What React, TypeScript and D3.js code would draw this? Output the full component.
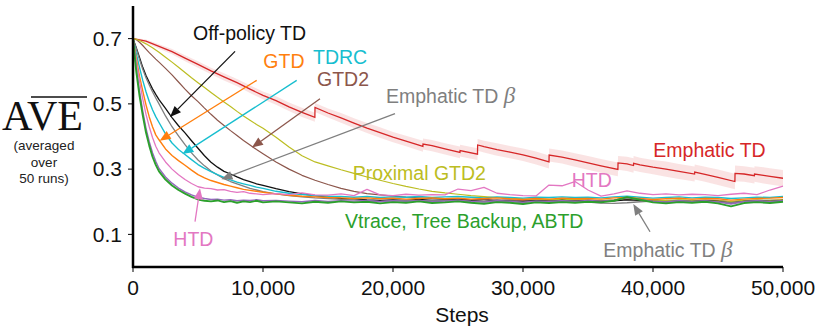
import React from "react";
import * as d3 from "d3";

// step grid shared by most runs (denser at the start where curves drop fast)
const steps = [
  0, 250, 500, 750, 1000, 1250, 1500, 1750, 2000, 2500, 3000, 3500, 4000, 4500, 5000,
  5500, 6000, 6500, 7000, 7500, 8000, 8500, 9000, 9500, 10000,
  11000, 12000, 13000, 14000, 15000, 16000, 17000, 18000, 19000, 20000,
  21000, 22000, 23000, 24000, 25000, 26000, 27000, 28000, 29000, 30000,
  31000, 32000, 33000, 34000, 35000, 36000, 37000, 38000, 39000, 40000,
  41000, 42000, 43000, 44000, 45000, 46000, 47000, 48000, 49000, 50000,
];

const vtrace = [
  0.7, 0.6, 0.525, 0.465, 0.412, 0.372, 0.338, 0.313, 0.293, 0.268, 0.25, 0.236, 0.225, 0.215, 0.207,
  0.203, 0.201, 0.204, 0.199, 0.202, 0.197, 0.201, 0.199, 0.203, 0.198,
  0.201, 0.198, 0.195, 0.2, 0.197, 0.201, 0.198, 0.2, 0.195, 0.199,
  0.197, 0.201, 0.196, 0.198, 0.201, 0.197, 0.194, 0.199, 0.197, 0.193,
  0.198, 0.196, 0.199, 0.197, 0.2, 0.198, 0.203, 0.214, 0.206, 0.198,
  0.195, 0.199, 0.197, 0.2, 0.195, 0.186, 0.196, 0.199, 0.196, 0.2,
];
const abtd = [
  0.7, 0.61, 0.538, 0.478, 0.425, 0.384, 0.35, 0.324, 0.302, 0.276, 0.257, 0.242, 0.23, 0.221, 0.214,
  0.21, 0.207, 0.208, 0.205, 0.206, 0.203, 0.205, 0.204, 0.206, 0.203,
  0.204, 0.202, 0.2, 0.204, 0.201, 0.203, 0.202, 0.204, 0.2, 0.203,
  0.201, 0.204, 0.2, 0.202, 0.204, 0.201, 0.199, 0.203, 0.201, 0.198,
  0.202, 0.2, 0.203, 0.201, 0.204, 0.202, 0.205, 0.212, 0.207, 0.201,
  0.199, 0.203, 0.2, 0.203, 0.199, 0.193, 0.2, 0.203, 0.2, 0.203,
];
const htd = [
  0.7, 0.63, 0.57, 0.515, 0.468, 0.43, 0.397, 0.37, 0.35, 0.322, 0.3, 0.283, 0.268, 0.256, 0.246,
  0.242, 0.24, 0.236, 0.237, 0.232, 0.229, 0.231, 0.226, 0.224, 0.222,
  0.225, 0.222, 0.227, 0.221, 0.22, 0.224, 0.219, 0.238, 0.221, 0.219,
  0.223, 0.22, 0.222, 0.221, 0.239, 0.234, 0.244, 0.226, 0.222, 0.219,
  0.218, 0.251, 0.249, 0.262, 0.236, 0.217, 0.224, 0.233, 0.226, 0.222,
  0.224, 0.221, 0.223, 0.222, 0.219, 0.223, 0.226, 0.222, 0.236, 0.248,
];
const gtd = [
  0.7, 0.64, 0.585, 0.54, 0.497, 0.46, 0.43, 0.405, 0.39, 0.362, 0.342, 0.326, 0.312, 0.297, 0.283,
  0.273, 0.265, 0.259, 0.253, 0.248, 0.243, 0.238, 0.235, 0.232, 0.229,
  0.224, 0.22, 0.217, 0.215, 0.213, 0.212, 0.21, 0.212, 0.209, 0.211,
  0.208, 0.21, 0.212, 0.209, 0.211, 0.208, 0.21, 0.212, 0.209, 0.207,
  0.21, 0.208, 0.211, 0.209, 0.21, 0.208, 0.212, 0.213, 0.21, 0.207,
  0.209, 0.211, 0.208, 0.21, 0.209, 0.205, 0.208, 0.21, 0.211, 0.213,
];
const tdrc = [
  0.7, 0.655, 0.612, 0.572, 0.537, 0.507, 0.482, 0.461, 0.443, 0.408, 0.38, 0.36, 0.345, 0.329, 0.314,
  0.302, 0.292, 0.283, 0.275, 0.267, 0.26, 0.255, 0.25, 0.245, 0.241,
  0.232, 0.226, 0.222, 0.219, 0.217, 0.216, 0.214, 0.216, 0.213, 0.215,
  0.214, 0.216, 0.213, 0.215, 0.216, 0.214, 0.212, 0.215, 0.213, 0.211,
  0.214, 0.213, 0.215, 0.213, 0.214, 0.212, 0.215, 0.217, 0.214, 0.211,
  0.213, 0.215, 0.212, 0.214, 0.213, 0.21, 0.212, 0.214, 0.213, 0.216,
];
const emphaticBeta = [
  0.7, 0.67, 0.636, 0.606, 0.58, 0.558, 0.537, 0.518, 0.5, 0.463, 0.43, 0.402, 0.375, 0.35, 0.328,
  0.31, 0.294, 0.282, 0.271, 0.262, 0.255, 0.248, 0.241, 0.236, 0.231,
  0.224, 0.219, 0.215, 0.212, 0.21, 0.207, 0.206, 0.203, 0.201, 0.203,
  0.204, 0.202, 0.205, 0.203, 0.204, 0.202, 0.2, 0.203, 0.201, 0.199,
  0.202, 0.2, 0.203, 0.201, 0.199, 0.196, 0.195, 0.197, 0.2, 0.202,
  0.2, 0.203, 0.201, 0.202, 0.2, 0.197, 0.201, 0.203, 0.201, 0.203,
];
const offPolicyTD = [
  0.7, 0.672, 0.642, 0.612, 0.587, 0.566, 0.546, 0.529, 0.513, 0.486, 0.458, 0.433, 0.411, 0.387, 0.364,
  0.341, 0.321, 0.306, 0.293, 0.285, 0.276, 0.268, 0.262, 0.255, 0.25,
  0.24, 0.231, 0.224, 0.219, 0.214, 0.21, 0.209, 0.206, 0.204, 0.206,
  0.204, 0.207, 0.204, 0.206, 0.205, 0.203, 0.201, 0.204, 0.202, 0.2,
  0.203, 0.201, 0.204, 0.202, 0.203, 0.201, 0.203, 0.206, 0.204, 0.201,
  0.199, 0.202, 0.2, 0.203, 0.201, 0.196, 0.201, 0.203, 0.201, 0.204,
];
const proximalGTD2 = [
  0.7, 0.698, 0.694, 0.689, 0.684, 0.678, 0.672, 0.665, 0.658, 0.643, 0.628, 0.612, 0.596, 0.58, 0.565,
  0.55, 0.535, 0.52, 0.506, 0.492, 0.477, 0.463, 0.45, 0.437, 0.425,
  0.398, 0.368, 0.341, 0.322, 0.31, 0.298, 0.287, 0.276, 0.266, 0.256,
  0.247, 0.239, 0.232, 0.227, 0.223, 0.219, 0.216, 0.213, 0.211, 0.209,
  0.208, 0.207, 0.206, 0.207, 0.205, 0.204, 0.206, 0.21, 0.206, 0.203,
  0.204, 0.206, 0.205, 0.204, 0.203, 0.201, 0.204, 0.205, 0.204, 0.206,
];
const gtd2 = [
  0.7, 0.697, 0.689, 0.679, 0.668, 0.657, 0.647, 0.637, 0.628, 0.609, 0.589, 0.567, 0.545, 0.525, 0.507,
  0.487, 0.468, 0.45, 0.434, 0.418, 0.403, 0.388, 0.374, 0.36, 0.347,
  0.322, 0.3, 0.281, 0.266, 0.253, 0.241, 0.232, 0.225, 0.221, 0.217,
  0.214, 0.212, 0.21, 0.209, 0.208, 0.206, 0.207, 0.205, 0.206, 0.204,
  0.206, 0.205, 0.207, 0.205, 0.206, 0.203, 0.205, 0.208, 0.206, 0.204,
  0.202, 0.205, 0.203, 0.205, 0.204, 0.2, 0.203, 0.205, 0.204, 0.206,
];

// Emphatic TD has its own grid so the sawtooth jumps stay vertical
const emphaticSteps = [
  0, 1000, 2000, 3000, 4000, 5000, 6000, 7000, 8000, 9000, 10000, 11000, 12000, 13000,
  13990, 14000, 15000, 16000, 17000, 18000, 19000, 20000, 21000, 22300, 22310, 23000, 24000,
  25150, 25160, 26500, 26510, 27000, 28000, 29000, 30000, 31000, 32000, 32010, 33000, 34000,
  35000, 36000, 37300, 37310, 38000, 38500, 38510, 39000, 40000, 41000, 42000, 43200, 43210,
  44000, 45000, 46300, 46310, 47000, 47800, 47810, 48500, 49000, 50000,
];
const emphaticTD = [
  0.7, 0.692, 0.676, 0.66, 0.64, 0.621, 0.601, 0.583, 0.565, 0.545, 0.526, 0.51, 0.491, 0.474,
  0.459, 0.489, 0.472, 0.457, 0.441, 0.426, 0.412, 0.398, 0.386, 0.37, 0.377, 0.372, 0.362,
  0.351, 0.357, 0.346, 0.374, 0.369, 0.36, 0.352, 0.344, 0.334, 0.322, 0.343, 0.337, 0.328,
  0.319, 0.31, 0.299, 0.319, 0.316, 0.311, 0.318, 0.313, 0.306, 0.3, 0.293, 0.285, 0.291,
  0.284, 0.275, 0.262, 0.287, 0.285, 0.28, 0.285, 0.281, 0.278, 0.272,
];
const emphaticErr = [
  0.003, 0.005, 0.007, 0.008, 0.009, 0.01, 0.01, 0.011, 0.011, 0.012, 0.012, 0.013, 0.013, 0.014,
  0.014, 0.014, 0.014, 0.015, 0.015, 0.015, 0.016, 0.016, 0.016, 0.017, 0.017, 0.017, 0.017,
  0.018, 0.018, 0.018, 0.018, 0.018, 0.019, 0.019, 0.019, 0.02, 0.02, 0.02, 0.02, 0.021,
  0.021, 0.021, 0.021, 0.021, 0.022, 0.022, 0.022, 0.022, 0.022, 0.023, 0.023, 0.023, 0.023,
  0.023, 0.024, 0.024, 0.024, 0.024, 0.024, 0.024, 0.025, 0.025, 0.025,
];

const xTicks = [0, 10000, 20000, 30000, 40000, 50000];
const yTicks = [0.1, 0.3, 0.5, 0.7];

// drawing order: back to front
const series = [
  { values: gtd2, color: "#8c564b", width: 1.2 },
  { values: proximalGTD2, color: "#bcbd22", width: 1.2 },
  { values: offPolicyTD, color: "#111111", width: 1.3 },
  { values: emphaticBeta, color: "#7f7f7f", width: 1.3 },
  { values: tdrc, color: "#17becf", width: 1.4 },
  { values: gtd, color: "#ff7f0e", width: 1.4 },
  { values: htd, color: "#e377c2", width: 1.3 },
  { values: abtd, color: "#9467bd", width: 1.4 },
  { values: vtrace, color: "#2ca02c", width: 1.9 },
];

// annotation labels [step, value at baseline]
const labels = [
  { text: "Off-policy TD", color: "#111111", at: [4615, 0.696], beta: false },
  { text: "GTD", color: "#ff7f0e", at: [10023, 0.609], beta: false },
  { text: "TDRC", color: "#17becf", at: [13846, 0.621], beta: false },
  { text: "GTD2", color: "#8c564b", at: [14154, 0.554], beta: false },
  { text: "Emphatic TD ", color: "#7f7f7f", at: [19462, 0.502], beta: true },
  { text: "Emphatic TD", color: "#d62728", at: [40023, 0.336], beta: false },
  { text: "Proximal GTD2", color: "#bcbd22", at: [16900, 0.268], beta: false },
  { text: "HTD", color: "#e377c2", at: [33746, 0.246], beta: false },
  { text: "Vtrace, Tree Backup, ABTD", color: "#2ca02c", at: [16308, 0.121], beta: false },
  { text: "Emphatic TD ", color: "#7f7f7f", at: [36177, 0.03], beta: true },
  { text: "HTD", color: "#e377c2", at: [3100, 0.064], beta: false },
];

const arrows = [
  { color: "#111111", from: [7850, 0.661], to: [2850, 0.46] },
  { color: "#ff7f0e", from: [9515, 0.572], to: [2050, 0.387] },
  { color: "#17becf", from: [12592, 0.572], to: [3800, 0.346] },
  { color: "#8c564b", from: [14385, 0.516], to: [9150, 0.366] },
  { color: "#7f7f7f", from: [20154, 0.47], to: [6800, 0.269] },
  { color: "#e377c2", from: [4770, 0.139], to: [5154, 0.241] },
  { color: "#7f7f7f", from: [39770, 0.108], to: [38485, 0.193] },
];

const W = 830;
const H = 335;
const sans = "'Liberation Sans', Arial, Helvetica, sans-serif";
const serif = "'Liberation Serif', 'Times New Roman', serif";

export default function App() {
  const x = d3.scaleLinear().domain([0, 50000]).range([133, 783]);
  const y = d3.scaleLinear().domain([0, 0.8]).range([267, 6]);

  const line = d3
    .line<number>()
    .x((_, i) => x(steps[i]))
    .y((d) => y(d));

  const redLine = d3
    .line<number>()
    .x((_, i) => x(emphaticSteps[i]))
    .y((d) => y(d));

  const redBand = d3
    .area<number>()
    .x((_, i) => x(emphaticSteps[i]))
    .y0((d, i) => y(d - emphaticErr[i]))
    .y1((d, i) => y(d + emphaticErr[i]));

  const arrowHead = (a: { from: number[]; to: number[] }) => {
    const x1 = x(a.from[0]);
    const y1 = y(a.from[1]);
    const x2 = x(a.to[0]);
    const y2 = y(a.to[1]);
    const ang = Math.atan2(y2 - y1, x2 - x1);
    const len = 11;
    const half = 4.5;
    const bx = x2 - len * Math.cos(ang);
    const by = y2 - len * Math.sin(ang);
    const px = -Math.sin(ang) * half;
    const py = Math.cos(ang) * half;
    return {
      line: [x1, y1, bx, by],
      tri: `${x2},${y2} ${bx + px},${by + py} ${bx - px},${by - py}`,
    };
  };

  return (
    <svg
      width={W}
      height={H}
      style={{ position: "absolute", left: 0, top: 0, background: "#fff" }}
      fontFamily={sans}
    >
      {/* y label */}
      <text x={2} y={130} fontFamily={serif} fontSize={42} fill="#111">
        AVE
      </text>
      <line x1={31} x2={87} y1={97} y2={97} stroke="#111" strokeWidth={1.6} />
      <g fontSize={13.5} fill="#222" textAnchor="middle">
        <text x={44} y={150}>(averaged</text>
        <text x={44} y={167}>over</text>
        <text x={44} y={183}>50 runs)</text>
      </g>

      {/* curves */}
      <path d={redBand(emphaticTD) || ""} fill="#d62728" fillOpacity={0.13} />
      <path d={redLine(emphaticTD) || ""} fill="none" stroke="#d62728" strokeWidth={1.3} />
      {series.map((s, i) => (
        <path
          key={i}
          d={line(s.values) || ""}
          fill="none"
          stroke={s.color}
          strokeWidth={s.width}
          strokeLinejoin="round"
        />
      ))}

      {/* annotation arrows */}
      {arrows.map((a, i) => {
        const h = arrowHead(a);
        return (
          <g key={i}>
            <line
              x1={h.line[0]}
              y1={h.line[1]}
              x2={h.line[2]}
              y2={h.line[3]}
              stroke={a.color}
              strokeWidth={1.3}
            />
            <polygon points={h.tri} fill={a.color} />
          </g>
        );
      })}

      {/* annotation labels */}
      {labels.map((l, i) => (
        <text key={i} x={x(l.at[0])} y={y(l.at[1])} fill={l.color} fontSize={19.5}>
          {l.text}
          {l.beta && (
            <tspan fontFamily={serif} fontStyle="italic" fontSize={23}>
              β
            </tspan>
          )}
        </text>
      ))}

      {/* axes */}
      <line x1={133} x2={133} y1={y(0.8)} y2={y(0) + 1} stroke="#000" strokeWidth={2.5} />
      <line x1={132} x2={x(50000)} y1={y(0)} y2={y(0)} stroke="#000" strokeWidth={2.5} />
      {yTicks.map((t) => (
        <g key={t}>
          <line x1={128} x2={133} y1={y(t)} y2={y(t)} stroke="#000" strokeWidth={1} />
          <text x={122} y={y(t)} dy="0.35em" textAnchor="end" fontSize={21} fill="#111">
            {d3.format(".1f")(t)}
          </text>
        </g>
      ))}
      {xTicks.map((t) => (
        <g key={t}>
          <line x1={x(t)} x2={x(t)} y1={y(0)} y2={y(0) + 5} stroke="#000" strokeWidth={1} />
          <text x={x(t)} y={295} textAnchor="middle" fontSize={21} fill="#111">
            {d3.format(",")(t)}
          </text>
        </g>
      ))}
      <text x={462} y={322} textAnchor="middle" fontSize={21} fill="#111">
        Steps
      </text>
    </svg>
  );
}
